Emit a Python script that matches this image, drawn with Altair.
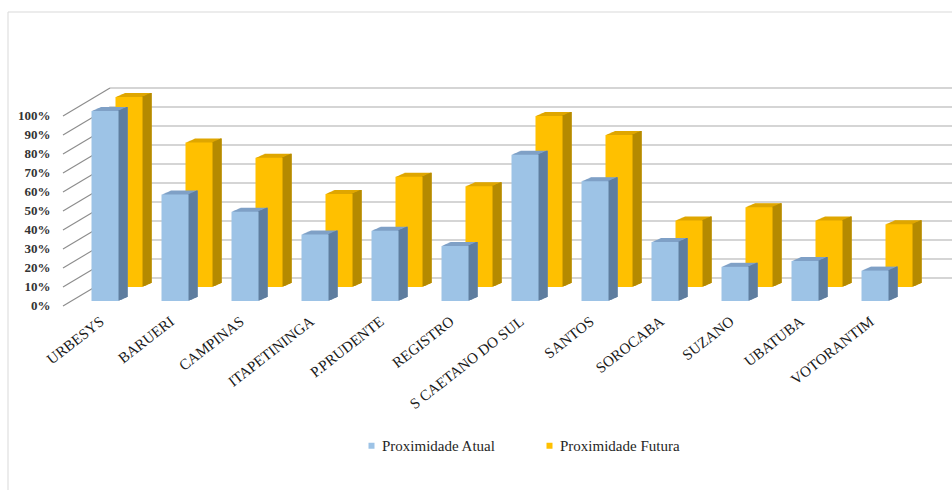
import altair as alt
import pandas as pd

cidades = ["URBESYS", "BARUERI", "CAMPINAS", "ITAPETININGA", "P.PRUDENTE", "REGISTRO",
           "S CAETANO DO SUL", "SANTOS", "SOROCABA", "SUZANO", "UBATUBA", "VOTORANTIM"]
atual = [1.00, 0.56, 0.47, 0.35, 0.37, 0.29, 0.77, 0.63, 0.31, 0.18, 0.21, 0.16]
futura = [1.00, 0.76, 0.68, 0.49, 0.58, 0.53, 0.90, 0.80, 0.35, 0.42, 0.35, 0.33]
series = ["Proximidade Atual", "Proximidade Futura"]
ticks = [0.0, 0.1, 0.2, 0.3, 0.4, 0.5, 0.6, 0.7, 0.8, 0.9, 1.0]

front_cols = ["#9dc3e6", "#ffc000"]
top_cols = ["#7fa0c6", "#dfa600"]
side_cols = ["#5e7d9e", "#b48a00"]

df_a = pd.DataFrame({"cidade": cidades, "valor": atual, "serie": series[0]})
df_f = pd.DataFrame({"cidade": cidades, "valor": futura, "serie": series[1]})
df_t = pd.DataFrame({"v": ticks})
df_one = pd.DataFrame({"a": [0]})

SERIF = "Liberation Serif"
BAR_W = 27
DEPTH_X = 9
DEPTH_Y = 4

yscale = alt.Scale(domain=[0, 1], nice=False, zero=True)
xscale = alt.Scale(domain=cidades, paddingInner=0, paddingOuter=0)

XAXIS = alt.Axis(domain=False, ticks=False, grid=False, labelAngle=-38,
                 labelAlign="right", labelBaseline="middle", labelPadding=18,
                 labelOffset=-3, labelFont=SERIF, labelFontSize=15,
                 labelColor="#1a1a1a", labelLimit=300, title=None)
YAXIS = alt.Axis(domain=False, ticks=False, grid=False, values=ticks, format=".0%",
                 labelPadding=20, labelOffset=4, labelFont=SERIF, labelFontSize=13,
                 labelFontWeight="bold", labelColor="#333333", title=None)


def xenc():
    return alt.X("cidade:N", sort=cidades, scale=xscale, axis=XAXIS, title=None)


def yenc(field="valor:Q"):
    return alt.Y(field, scale=yscale, axis=YAXIS, title=None)


def prism(df, dx0, dy0, i):
    layers = []
    # top face (union of shifted copies)
    for k in range(1, DEPTH_X + 1):
        oy = dy0 - k * DEPTH_Y / DEPTH_X
        layers.append(
            alt.Chart(df).mark_bar(width=BAR_W, color=top_cols[i], xOffset=dx0 + k,
                                   yOffset=oy, y2Offset=oy)
            .encode(x=xenc(), y=yenc(), y2=alt.datum(0))
        )
    # side face (thin strips)
    for k in range(1, DEPTH_X + 1):
        oy = dy0 - k * DEPTH_Y / DEPTH_X
        layers.append(
            alt.Chart(df).mark_bar(width=1.6, color=side_cols[i],
                                   xOffset=dx0 + BAR_W / 2 + k - 0.6,
                                   yOffset=oy, y2Offset=oy)
            .encode(x=xenc(), y=yenc(), y2=alt.datum(0))
        )
    # front face
    layers.append(
        alt.Chart(df).mark_bar(width=BAR_W, xOffset=dx0, yOffset=dy0, y2Offset=dy0)
        .encode(
            x=xenc(), y=yenc(), y2=alt.datum(0),
            color=alt.Color("serie:N",
                            scale=alt.Scale(domain=series, range=front_cols),
                            legend=alt.Legend(title=None, orient="none", legendX=294,
                                              legendY=327, direction="horizontal",
                                              symbolType="square", symbolSize=36,
                                              symbolStrokeWidth=0, labelFont=SERIF,
                                              labelFontSize=15, labelColor="#262626",
                                              columnPadding=46, symbolOffset=0,
                                              labelOffset=3)),
        )
    )
    return layers


# back wall gridlines
grid = alt.Chart(df_t).mark_rule(color="#ababab", strokeWidth=1.2, yOffset=-23,
                                 y2Offset=-23).encode(
    y=yenc("v:Q"), y2=alt.Y2("v:Q"),
    x=alt.value(40), x2=alt.value(882))

# left side wall lines
slant = alt.Chart(df_t).mark_rule(color="#8c8c8c", strokeWidth=1.1, yOffset=5,
                                  y2Offset=-23).encode(
    y=yenc("v:Q"), y2=alt.Y2("v:Q"),
    x=alt.value(-7), x2=alt.value(40))

# chart frame (top and left edges)
frame_top = alt.Chart(df_one).mark_rule(color="#d9d9d9", strokeWidth=1).encode(
    x=alt.value(-62), x2=alt.value(900), y=alt.value(-99))
frame_left = alt.Chart(df_one).mark_rule(color="#d9d9d9", strokeWidth=1).encode(
    x=alt.value(-62), y=alt.value(-99), y2=alt.value(400))

layers = [grid, slant]
layers += prism(df_f, 24, -14, 1)
layers += prism(df_a, 0, 0, 0)
layers += [frame_top, frame_left]

chart = alt.layer(*layers).properties(
    width=840, height=190,
    padding={"left": 70, "top": 111, "right": 42, "bottom": 189},
    autosize=alt.AutoSizeParams(type="none"),
    background="white",
).configure_view(stroke=None)

chart.save("out.html", embed_options={"renderer": "svg", "actions": False})
